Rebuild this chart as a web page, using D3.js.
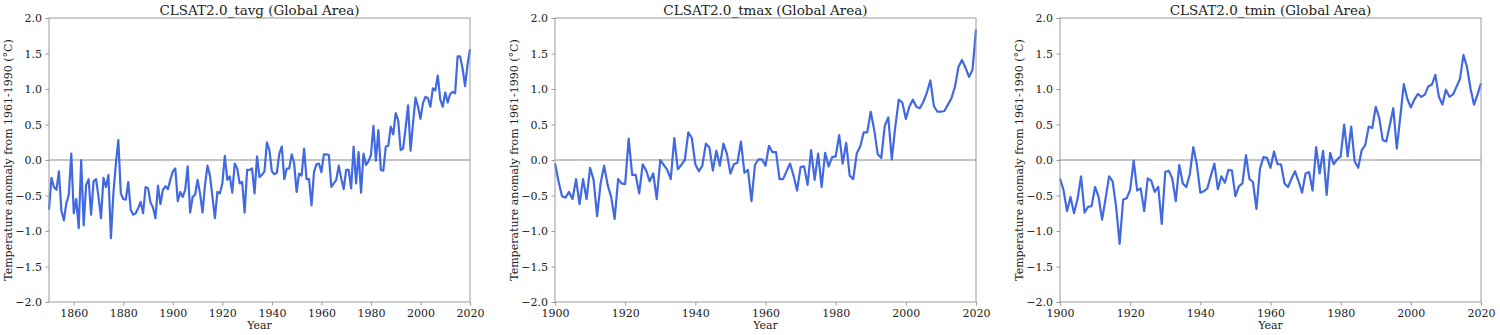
<!DOCTYPE html>
<html>
<head>
<meta charset="utf-8">
<script src="https://cdn.jsdelivr.net/npm/d3@7"></script>
<style>
  html, body { margin: 0; padding: 0; background: #fff; }
  svg { display: block; }
  text { font-family: "DejaVu Serif", serif; fill: #222; }
</style>
</head>
<body>
<svg id="chart" width="1500" height="335"></svg>
<script>
// Annual global temperature anomalies relative to 1961-1990 (°C)
const tavgStart = 1850;
const tavgValues = [
  -0.70, -0.25, -0.38, -0.42, -0.16, -0.71, -0.85, -0.61, -0.49, 0.09,
  -0.75, -0.55, -0.96, 0.00, -0.92, -0.35, -0.27, -0.77, -0.30, -0.27,
  -0.52, -0.82, -0.25, -0.38, -0.21, -1.10, -0.47, -0.05, 0.28, -0.47,
  -0.55, -0.56, -0.31, -0.70, -0.77, -0.75, -0.68, -0.59, -0.75, -0.38,
  -0.40, -0.60, -0.67, -0.82, -0.36, -0.62, -0.42, -0.37, -0.41, -0.28,
  -0.16, -0.12, -0.58, -0.45, -0.52, -0.42, -0.09, -0.74, -0.52, -0.49,
  -0.28, -0.47, -0.74, -0.35, -0.08, -0.22, -0.52, -0.82, -0.45, -0.47,
  -0.33, 0.06, -0.28, -0.23, -0.46, -0.05, -0.12, -0.33, -0.31, -0.74,
  -0.14, -0.14, -0.12, -0.47, 0.05, -0.24, -0.21, -0.16, 0.25, 0.14,
  -0.16, -0.20, -0.18, 0.09, 0.19, -0.27, -0.12, -0.12, 0.08, -0.05,
  -0.45, -0.19, -0.22, 0.16, -0.27, -0.27, -0.64, -0.17, -0.06, -0.05,
  -0.17, 0.08, 0.08, 0.07, -0.38, -0.33, -0.28, -0.08, -0.26, -0.41,
  -0.14, -0.14, -0.40, 0.19, -0.33, 0.11, -0.46, 0.09, -0.07, -0.02,
  0.07, 0.48, -0.01, 0.42, -0.14, -0.15, 0.19, 0.20, 0.47, 0.36,
  0.66, 0.56, 0.14, 0.16, 0.45, 0.77, 0.13, 0.52, 0.88, 0.75,
  0.58, 0.80, 0.89, 0.87, 0.75, 1.01, 0.98, 1.19, 0.85, 0.75,
  0.95, 0.81, 0.93, 0.96, 0.94, 1.46, 1.46, 1.29, 1.04, 1.34, 1.56
];

const tmaxStart = 1900;
const tmaxValues = [
  -0.05, -0.30, -0.51, -0.53, -0.45, -0.55, -0.27, -0.62, -0.27, -0.55,
  -0.11, -0.28, -0.79, -0.33, -0.08, -0.35, -0.52, -0.83, -0.27, -0.33,
  -0.34, 0.30, -0.21, -0.21, -0.47, -0.06, -0.15, -0.30, -0.19, -0.55,
  0.00, -0.07, -0.14, -0.27, 0.31, -0.13, -0.07, 0.00, 0.39, 0.31,
  -0.06, -0.16, -0.08, 0.23, 0.18, -0.15, 0.13, -0.08, 0.23, 0.09,
  -0.19, -0.06, -0.04, 0.26, -0.18, -0.14, -0.58, -0.07, 0.01, 0.01,
  -0.08, 0.20, 0.11, 0.11, -0.27, -0.27, -0.16, -0.05, -0.22, -0.43,
  -0.10, -0.09, -0.35, 0.14, -0.28, 0.09, -0.38, 0.10, -0.09, 0.04,
  0.05, 0.35, -0.05, 0.24, -0.22, -0.27, 0.09, 0.19, 0.39, 0.39,
  0.68, 0.42, 0.08, 0.03, 0.48, 0.60, 0.01, 0.47, 0.85, 0.81,
  0.58, 0.75, 0.85, 0.75, 0.73, 0.82, 0.95, 1.12, 0.76, 0.68,
  0.68, 0.69, 0.78, 0.87, 1.03, 1.31, 1.41, 1.30, 1.17, 1.27, 1.84
];

const tminStart = 1900;
const tminValues = [
  -0.26, -0.42, -0.72, -0.52, -0.75, -0.55, -0.23, -0.74, -0.66, -0.65,
  -0.38, -0.52, -0.84, -0.54, -0.23, -0.30, -0.66, -1.18, -0.56, -0.54,
  -0.42, -0.01, -0.43, -0.40, -0.72, -0.26, -0.29, -0.45, -0.38, -0.90,
  -0.17, -0.15, -0.26, -0.58, -0.07, -0.33, -0.38, -0.20, 0.18, -0.06,
  -0.46, -0.44, -0.40, -0.22, -0.05, -0.41, -0.23, -0.32, -0.14, -0.15,
  -0.51, -0.37, -0.33, 0.07, -0.27, -0.31, -0.69, -0.12, 0.04, 0.03,
  -0.11, 0.12, -0.06, -0.06, -0.33, -0.38, -0.26, -0.16, -0.30, -0.46,
  -0.19, -0.17, -0.43, 0.18, -0.19, 0.13, -0.49, 0.10, -0.06, 0.01,
  0.05, 0.50, 0.05, 0.47, -0.02, -0.11, 0.14, 0.21, 0.47, 0.45,
  0.75, 0.59, 0.28, 0.26, 0.49, 0.73, 0.16, 0.61, 1.07, 0.86,
  0.74, 0.85, 0.93, 0.89, 0.92, 1.04, 1.06, 1.20, 0.89, 0.78,
  0.99, 0.89, 0.92, 1.03, 1.14, 1.48, 1.31, 1.01, 0.78, 0.92, 1.08
];

const panelTitles = [
  "CLSAT2.0_tavg (Global Area)",
  "CLSAT2.0_tmax (Global Area)",
  "CLSAT2.0_tmin (Global Area)"
];
const yTickValues = [-2.0, -1.5, -1.0, -0.5, 0.0, 0.5, 1.0, 1.5, 2.0];
const xTicksLong = [1860, 1880, 1900, 1920, 1940, 1960, 1980, 2000, 2020];
const xTicksShort = [1900, 1920, 1940, 1960, 1980, 2000, 2020];
const yLabel = "Temperature anomaly from 1961-1990 (°C)";
const xLabel = "Year";

const series = [
  { title: panelTitles[0], start: tavgStart, values: tavgValues, ticks: xTicksLong },
  { title: panelTitles[1], start: tmaxStart, values: tmaxValues, ticks: xTicksShort },
  { title: panelTitles[2], start: tminStart, values: tminValues, ticks: xTicksShort }
];

// Layout
const svg = d3.select("#chart");
const panelLeft = [49, 555, 1060];
const panelWidth = 421;
const plotTop = 18, plotBottom = 302;
const lineColor = "#4169e1";
const spineColor = "#9a9a9a";

const fmt = d => (d < 0 ? "\u2212" : "") + Math.abs(d).toFixed(1);

series.forEach((s, i) => {
  const years = d3.range(s.start, s.start + s.values.length);
  const data = years.map((yr, k) => ({ year: yr, value: s.values[k] }));

  const x = d3.scaleLinear()
    .domain([s.start, 2020])
    .range([panelLeft[i], panelLeft[i] + panelWidth]);
  const y = d3.scaleLinear().domain([-2, 2]).range([plotBottom, plotTop]);

  const g = svg.append("g");

  // zero reference line
  g.append("line")
    .attr("x1", x.range()[0]).attr("x2", x.range()[1])
    .attr("y1", y(0)).attr("y2", y(0))
    .attr("stroke", "#8a8a8a").attr("stroke-width", 1.1);

  // series line
  g.append("path")
    .datum(data)
    .attr("fill", "none")
    .attr("stroke", lineColor)
    .attr("stroke-width", 2.2)
    .attr("stroke-linejoin", "round")
    .attr("d", d3.line().x(d => x(d.year)).y(d => y(d.value)));

  // frame
  g.append("rect")
    .attr("x", x.range()[0]).attr("y", plotTop)
    .attr("width", panelWidth).attr("height", plotBottom - plotTop)
    .attr("fill", "none").attr("stroke", spineColor).attr("stroke-width", 1);

  // axes
  const xAxis = g.append("g")
    .attr("transform", `translate(0,${plotBottom})`)
    .call(d3.axisBottom(x).tickValues(s.ticks).tickFormat(d3.format("d")).tickSize(3.5).tickPadding(3.5));
  const yAxis = g.append("g")
    .attr("transform", `translate(${x.range()[0]},0)`)
    .call(d3.axisLeft(y).tickValues(yTickValues).tickFormat(fmt).tickSize(3.5).tickPadding(3.5));

  [xAxis, yAxis].forEach(ax => {
    ax.select(".domain").remove();
    ax.selectAll(".tick line").attr("stroke", spineColor);
    ax.selectAll(".tick text")
      .attr("fill", "#222")
      .style("font-family", "'DejaVu Serif', serif")
      .style("font-size", "11px");
  });

  // title
  g.append("text")
    .attr("x", x.range()[0] + panelWidth / 2)
    .attr("y", 15)
    .attr("text-anchor", "middle")
    .style("font-size", "13.5px")
    .text(s.title);

  // axis labels
  g.append("text")
    .attr("x", x.range()[0] + panelWidth / 2)
    .attr("y", 329)
    .attr("text-anchor", "middle")
    .style("font-size", "11px")
    .text(xLabel);

  g.append("text")
    .attr("transform", `translate(${x.range()[0] - 37},${(plotTop + plotBottom) / 2}) rotate(-90)`)
    .attr("text-anchor", "middle")
    .style("font-size", "11px")
    .text(yLabel);
});
</script>
</body>
</html>
